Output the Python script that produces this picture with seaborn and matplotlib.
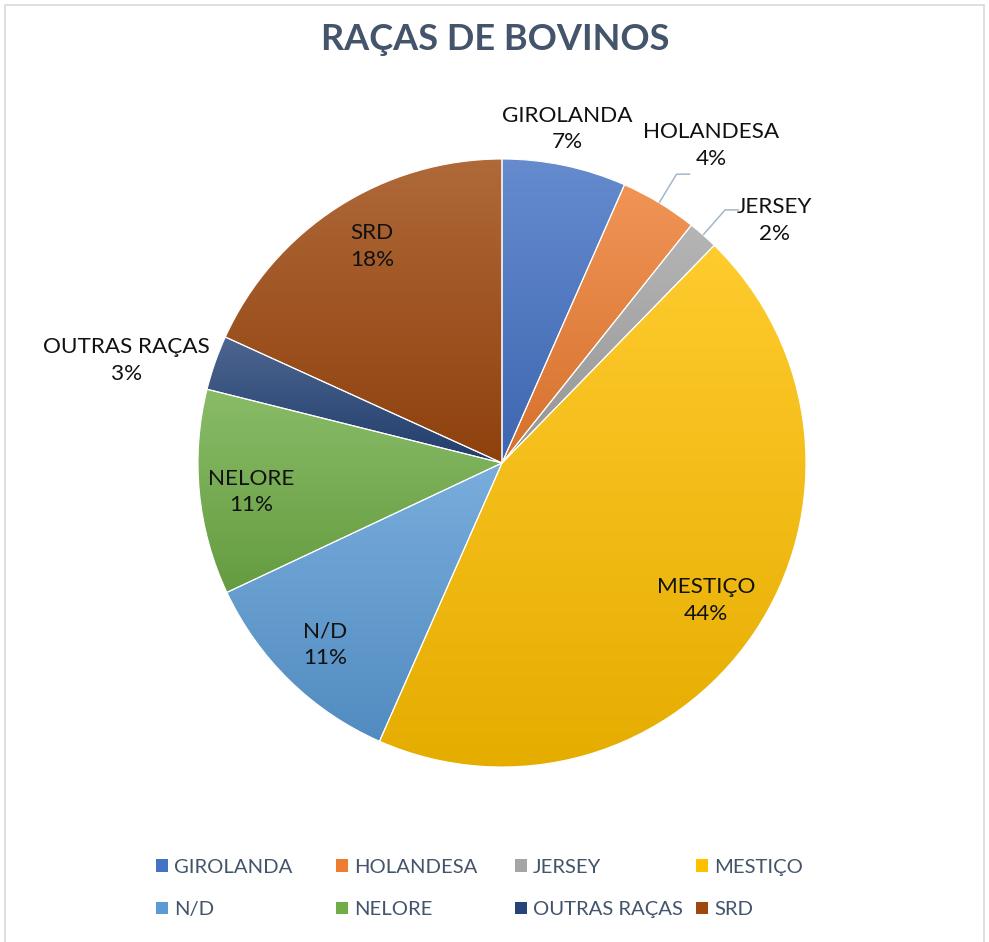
import numpy as np
import matplotlib
matplotlib.use("Agg")
import matplotlib.pyplot as plt
import seaborn as sns
from matplotlib.patches import Rectangle, Patch
from matplotlib.colors import to_rgb

# ---------------- data ----------------
categories = ["GIROLANDA", "HOLANDESA", "JERSEY", "MESTIÇO",
              "N/D", "NELORE", "OUTRAS RAÇAS", "SRD"]
values = [6.6, 4.1, 1.6, 44.3, 11.4, 10.9, 2.9, 18.2]
colors = ["#4472C4", "#ED7D31", "#A5A5A5", "#FFC000",
          "#5B9BD5", "#70AD47", "#264478", "#9E480E"]
title = "RAÇAS DE BOVINOS"

# label placement style (radius in pie-radius units, clockwise angle offset in degrees)
label_r = [1.12, 1.25, 1.20, 0.81, 0.835, 0.83, 1.28, 0.83]
label_dang = [-0.8, 2.2, 7.0, 0.0, 0.0, -1.0, -4.0, 1.8]
leader = [False, True, True, False, False, False, False, False]

# ---------------- style ----------------
sns.set_theme(style="white")
plt.rcParams["font.family"] = ["Lato", "DejaVu Sans"]

W, H = 989, 942
fig = plt.figure(figsize=(W / 100, H / 100), dpi=100)
fig.patch.set_facecolor("white")

# chart frame
fig.patches.append(Rectangle((5 / W, -0.01), (984 - 5) / W, 1 - 5 / H + 0.01,
                             transform=fig.transFigure, fill=False,
                             edgecolor="#D9D9D9", linewidth=1.2))

cx, cy, R = 502, 463, 304
ax = fig.add_axes([(cx - R) / W, (H - cy - R) / H, 2 * R / W, 2 * R / H])

wedges, _ = ax.pie(values, colors=colors, startangle=90, counterclock=False,
                   radius=1, wedgeprops=dict(edgecolor="white", linewidth=0.8))


def grad(c, n=256):
    base = np.array(to_rgb(c))
    top = base + (1 - base) * 0.18
    bot = base * 0.90
    t = np.linspace(0, 1, n)[:, None]
    g = top[None, :] * (1 - t) + bot[None, :] * t
    return g[:, None, :]


for w, c in zip(wedges, colors):
    ext = w.get_path().get_extents()
    im = ax.imshow(grad(c), extent=(ext.x0, ext.x1, ext.y0, ext.y1),
                   origin="upper", aspect="auto", zorder=1, interpolation="bilinear")
    im.set_clip_path(w)
    w.set_facecolor("none")
    w.set_zorder(2)

total = sum(values)
for w, name, v, r, da, ld in zip(wedges, categories, values, label_r, label_dang, leader):
    mid = np.deg2rad((w.theta1 + w.theta2) / 2)
    ang = mid - np.deg2rad(da)
    x, y = r * np.cos(ang), r * np.sin(ang)
    ax.text(x, y, f"{name}\n{v / total * 100:.0f}%", ha="center", va="center",
            fontsize=16.2, color="#111111", linespacing=1.42, zorder=5)
    if ld:
        x0, y0 = 1.0 * np.cos(mid), 1.0 * np.sin(mid)
        x1, y1 = 1.11 * np.cos(mid), 1.11 * np.sin(mid)
        ax.plot([x0, x1, x1 + 0.045], [y0, y1, y1], color="#A6B6CA",
                linewidth=1.1, zorder=4, solid_capstyle="butt")

ax.set_xlim(-1, 1)
ax.set_ylim(-1, 1)
ax.set_aspect("auto")
ax.axis("off")

fig.text(495 / W, 1 - 40 / H, title, ha="center", va="center",
         fontsize=26, fontweight="bold", color="#44546A")

# legend: 4 equal-width columns
col_x = [156, 336, 515, 696]
for j in range(4):
    idx = [j, j + 4]
    handles = [Patch(facecolor=colors[i], edgecolor="none") for i in idx]
    fig.legend(handles, [categories[i] for i in idx], loc="center left",
               bbox_to_anchor=(col_x[j] / W, 1 - 888.5 / H), frameon=False,
               fontsize=14.6, labelcolor="#44546A", handlelength=0.6,
               handleheight=0.6, handletextpad=0.3, borderpad=0,
               borderaxespad=0, labelspacing=1.25)

fig.savefig("out.png", dpi=100, facecolor="white")
